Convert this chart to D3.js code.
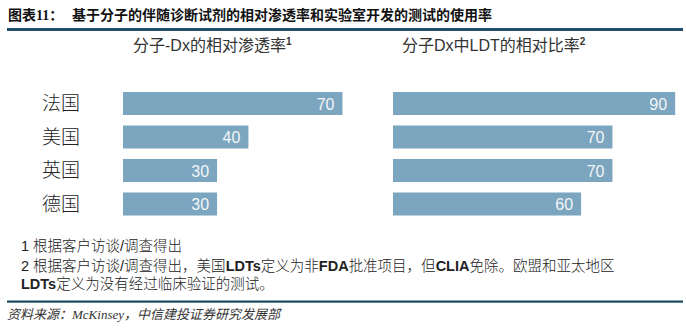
<!DOCTYPE html>
<html><head><meta charset="utf-8">
<script src="https://cdn.jsdelivr.net/npm/d3@7"></script>
<style>
html,body{margin:0;padding:0;background:#fff;}
svg{display:block;}
text{font-family:"Liberation Sans","Noto Sans CJK SC",sans-serif;}
</style></head>
<body>
<script>
const titleLabel = "图表11：";
const titleText = "基于分子的伴随诊断试剂的相对渗透率和实验室开发的测试的使用率";
const categories = ["法国", "美国", "英国", "德国"];
const penetration = [70, 40, 30, 30];
const ldtRatio = [90, 70, 70, 60];
const panelTitles = [["分子-Dx的相对渗透率", "1"], ["分子Dx中LDT的相对比率", "2"]];
const footnotes = [
  "1 根据客户访谈/调查得出",
  "2 根据客户访谈/调查得出，美国LDTs定义为非FDA批准项目，但CLIA免除。欧盟和亚太地区",
  "LDTs定义为没有经过临床验证的测试。"
];
const sourceText = "资料来源：McKinsey，中信建投证券研究发展部";

const W = 686, H = 332;
const svg = d3.select("body").append("svg").attr("width", W).attr("height", H);

// header
svg.append("text").attr("x", 8).attr("y", 20)
  .style("font-family", "'Liberation Serif','Noto Sans CJK SC',serif")
  .style("font-weight", 700).style("font-size", "14px").attr("fill", "#111").text(titleLabel);
svg.append("text").attr("x", 72).attr("y", 20)
  .style("font-family", "'Noto Sans CJK SC',sans-serif")
  .style("font-weight", 700).style("font-size", "14px").attr("fill", "#111").text(titleText);
svg.append("rect").attr("x", 7).attr("y", 28).attr("width", 676).attr("height", 3).attr("fill", "#1f4d6b");

const x = d3.scaleLinear().domain([0, 100]).range([0, 313.5]);
const y = d3.scaleBand().domain(categories).range([86.75, 220.75]).paddingInner(0.313).paddingOuter(0.1565);

const panels = [
  {x0: 123, values: penetration, title: panelTitles[0], tx: 133},
  {x0: 393, values: ldtRatio, title: panelTitles[1], tx: 402}
];

panels.forEach(p => {
  const g = svg.append("g").attr("transform", `translate(${p.x0},0)`);
  const t = svg.append("text").attr("x", p.tx).attr("y", 51)
    .style("font-size", "16px").attr("fill", "#333");
  t.append("tspan").style("font-family", "'Liberation Sans','Noto Sans CJK SC',sans-serif").text(p.title[0]);
  t.append("tspan").attr("dy", -6).style("font-size", "10px").style("font-weight", 700).text(p.title[1]);
  g.selectAll("rect").data(categories).join("rect")
    .attr("x", 0).attr("y", d => y(d))
    .attr("width", (d, i) => x(p.values[i])).attr("height", y.bandwidth())
    .attr("fill", "#7ca5bf");
  g.selectAll("text.v").data(categories).join("text").attr("class", "v")
    .attr("x", (d, i) => x(p.values[i]) - 8)
    .attr("y", d => y(d) + y.bandwidth() / 2 + 6)
    .attr("text-anchor", "end").style("font-size", "16px").attr("fill", "#f2f6f8")
    .text((d, i) => p.values[i]);
});

svg.selectAll("text.cat").data(categories).join("text").attr("class", "cat")
  .attr("x", 42).attr("y", d => y(d) + y.bandwidth() / 2 + 6.5)
  .style("font-family", "'Noto Sans CJK SC',sans-serif").style("font-size", "19px")
  .style("font-weight", 300).attr("fill", "#222").text(d => d);

// footnotes
const fnY = [251, 270.5, 289];
footnotes.forEach((s, i) => {
  const t = svg.append("text").attr("x", 21).attr("y", fnY[i]).style("font-size", "14.5px").attr("fill", "#222");
  const parts = s.split(/([A-Za-z]+)/).filter(d => d.length);
  parts.forEach(part => {
    const ts = t.append("tspan").text(part);
    if (/^[A-Za-z]+$/.test(part)) ts.style("font-weight", 700);
    else ts.style("font-weight", 300);
  });
});

svg.append("rect").attr("x", 7).attr("y", 300.5).attr("width", 676).attr("height", 2.2).attr("fill", "#1b4a5c");
svg.append("text").attr("x", 7).attr("y", 319)
  .style("font-family", "'Liberation Serif','Noto Sans CJK SC',serif")
  .style("font-style", "italic").style("font-size", "13px").attr("fill", "#333").text(sourceText);
</script>
</body></html>
